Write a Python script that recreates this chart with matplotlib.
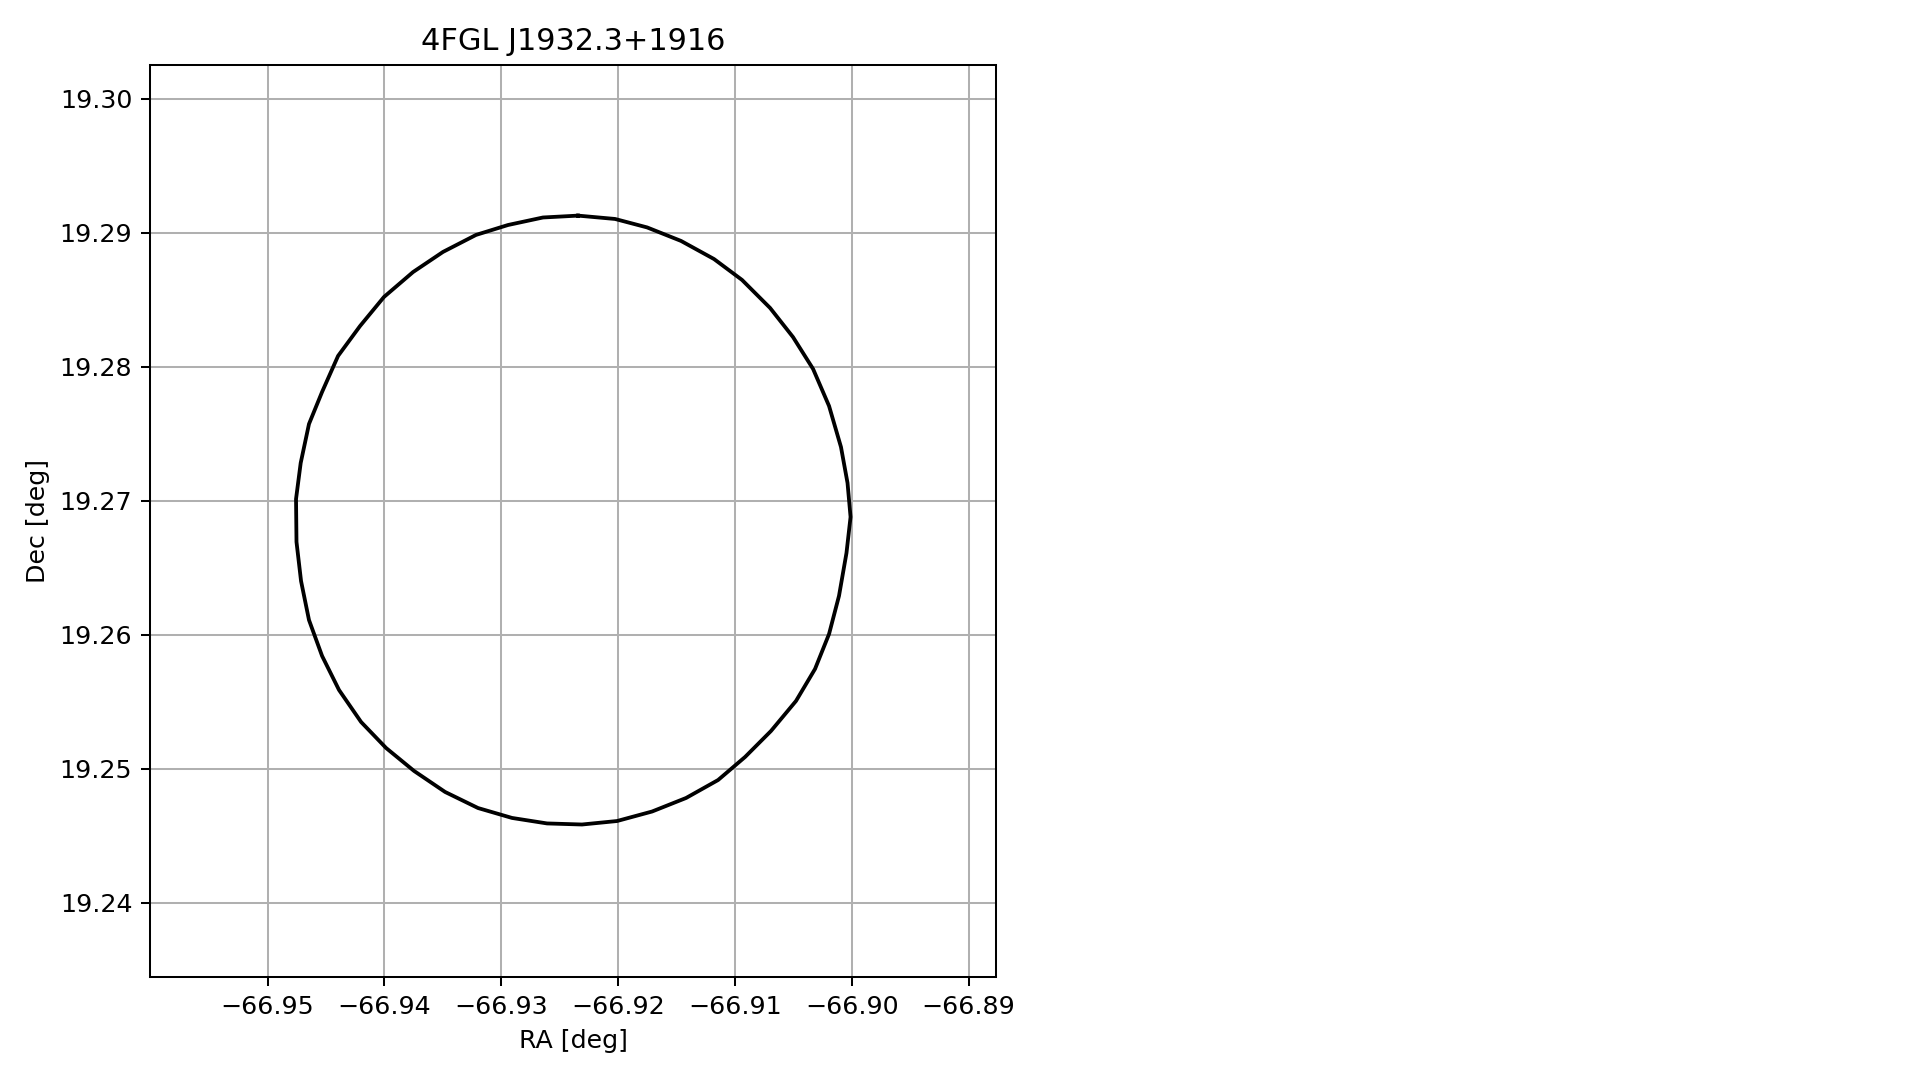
import matplotlib
matplotlib.use("Agg")
import matplotlib.pyplot as plt

title = "4FGL J1932.3+1916"
xlabel = "RA [deg]"
ylabel = "Dec [deg]"

ra = [-66.92343, -66.92643, -66.92942, -66.93216, -66.93499, -66.93755, -66.94004,
      -66.94209, -66.94397, -66.94534, -66.94646, -66.94717, -66.94757, -66.94753,
      -66.94714, -66.94646, -66.94534, -66.94389, -66.94200, -66.93986, -66.93747,
      -66.93481, -66.93199, -66.92908, -66.92608, -66.92309, -66.92009, -66.91709,
      -66.91418, -66.91144, -66.90913, -66.90691, -66.90477, -66.90314, -66.90194,
      -66.90109, -66.90045, -66.90010, -66.90036, -66.90092, -66.90194, -66.90331,
      -66.90503, -66.90699, -66.90939, -66.91179, -66.91461, -66.91752, -66.92026,
      -66.92343]
dec = [19.29128, 19.29114, 19.29058, 19.28984, 19.28857, 19.28707, 19.28521,
       19.28304, 19.28081, 19.27812, 19.27573, 19.27282, 19.27013, 19.26693,
       19.26401, 19.26110, 19.25842, 19.25588, 19.25349, 19.25155, 19.24984,
       19.24827, 19.24707, 19.24633, 19.24592, 19.24584, 19.24610, 19.24681,
       19.24782, 19.24916, 19.25088, 19.25282, 19.25506, 19.25745, 19.26006,
       19.26290, 19.26610, 19.26879, 19.27133, 19.27401, 19.27707, 19.27984,
       19.28222, 19.28439, 19.28648, 19.28804, 19.28939, 19.29040, 19.29103,
       19.29128]

xticks = [-66.95, -66.94, -66.93, -66.92, -66.91, -66.90, -66.89]
yticks = [19.24, 19.25, 19.26, 19.27, 19.28, 19.29, 19.30]
xlim = (-66.96007, -66.88765)
ylim = (19.23446, 19.30252)

W, H, DPI = 1919, 1080, 182
fig = plt.figure(figsize=(W / DPI, H / DPI), dpi=DPI)
ax = fig.add_axes([150 / W, (H - 977) / H, 846 / W, 912 / H])
ax.plot(ra, dec, color="black", lw=1.5)
ax.set_xticks(xticks)
ax.set_yticks(yticks)
ax.set_xlim(*xlim)
ax.set_ylim(*ylim)
ax.grid(True)
ax.set_title(title)
ax.set_xlabel(xlabel)
ax.set_ylabel(ylabel)
fig.savefig("out.png", dpi=DPI)
